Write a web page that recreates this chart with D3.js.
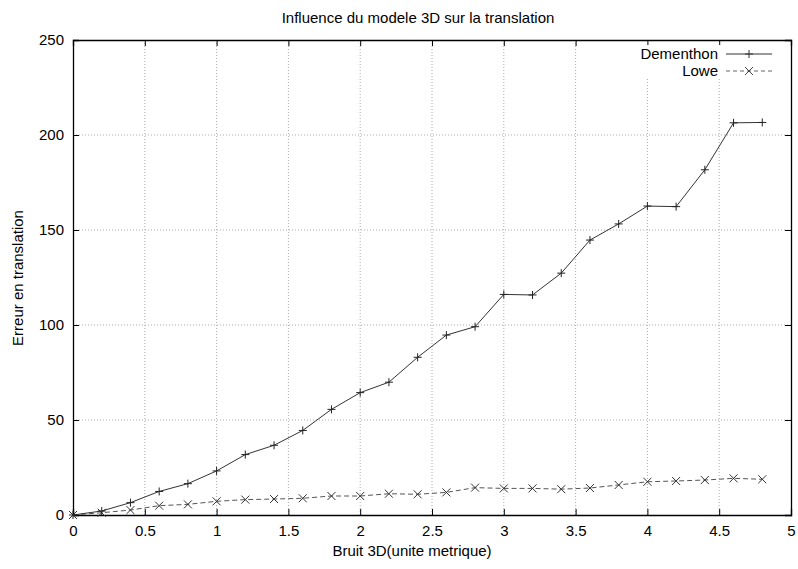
<!DOCTYPE html>
<html><head><meta charset="utf-8">
<script src="https://cdn.jsdelivr.net/npm/d3@7"></script>
<style>body{margin:0;background:#fff}svg{display:block}text{font-family:"Liberation Sans",Arial,sans-serif;fill:#000}</style>
</head><body>
<svg id="c" width="798" height="569"></svg>
<script>
const xValues = [0,0.2,0.4,0.6,0.8,1.0,1.2,1.4,1.6,1.8,2.0,2.2,2.4,2.6,2.8,3.0,3.2,3.4,3.6,3.8,4.0,4.2,4.4,4.6,4.8];
const dementhon = [0,2.1,6.5,12.4,16.5,23.2,31.8,36.7,44.5,55.6,64.4,69.9,83,94.7,99.1,116.1,115.8,127.3,144.7,153.2,162.6,162.3,181.7,206.4,206.6];
const lowe = [0,1.2,2.6,4.9,5.6,7.2,8.1,8.4,8.8,10.0,10.0,11.2,10.9,11.9,14.4,14.0,14.0,13.6,14.2,15.8,17.5,17.9,18.4,19.3,18.8];
const xTicks = [0,0.5,1,1.5,2,2.5,3,3.5,4,4.5,5];
const yTicks = [0,50,100,150,200,250];
const seriesNames = ["Dementhon","Lowe"];

const svg = d3.select("#c");
const L=73, R=791, T=40, B=515;
const FS = 15;
const x = d3.scaleLinear().domain([0,5]).range([L,R]);
const y = d3.scaleLinear().domain([0,250]).range([B,T]);

// grid
const g = svg.append("g");
xTicks.slice(1,-1).forEach(v=>{
  const y1 = (v>=4) ? 78 : T;
  g.append("line").attr("x1",x(v)).attr("x2",x(v)).attr("y1",B).attr("y2",y1)
   .attr("stroke","#aaa").attr("stroke-width",1).attr("stroke-dasharray","1,2");
});
yTicks.slice(1,-1).forEach(v=>{
  g.append("line").attr("x1",L).attr("x2",R).attr("y1",y(v)).attr("y2",y(v))
   .attr("stroke","#aaa").attr("stroke-width",1).attr("stroke-dasharray","1,2");
});

// axes with inward ticks
const ax = svg.append("g");
ax.append("g").attr("transform",`translate(0,${B})`)
  .call(d3.axisBottom(x).tickValues(xTicks).tickSize(-6).tickPadding(10).tickFormat(d3.format("")));
ax.append("g").attr("transform",`translate(0,${T})`)
  .call(d3.axisTop(x).tickValues(xTicks).tickSize(-6).tickFormat(""));
ax.append("g").attr("transform",`translate(${L},0)`)
  .call(d3.axisLeft(y).tickValues(yTicks).tickSize(-6).tickPadding(9));
ax.append("g").attr("transform",`translate(${R},0)`)
  .call(d3.axisRight(y).tickValues(yTicks).tickSize(-6).tickFormat(""));
ax.selectAll(".domain").attr("stroke","#000").attr("stroke-width",1.3);
ax.selectAll(".tick line").attr("stroke","#000").attr("stroke-width",1);
ax.selectAll(".tick text").attr("font-size",FS).attr("font-family","Liberation Sans, Arial, sans-serif");

// legend
const leg = svg.append("g");
const legY = [54,71];
leg.append("rect").attr("x",630).attr("y",45).attr("width",155).attr("height",33).attr("fill","#fff");
leg.append("text").attr("x",718).attr("y",legY[0]).attr("dy","0.35em").attr("text-anchor","end").attr("font-size",FS).text(seriesNames[0]);
leg.append("text").attr("x",718).attr("y",legY[1]).attr("dy","0.35em").attr("text-anchor","end").attr("font-size",FS).text(seriesNames[1]);
leg.append("line").attr("x1",726).attr("x2",772).attr("y1",legY[0]).attr("y2",legY[0]).attr("stroke","#333").attr("stroke-width",1);
leg.append("line").attr("x1",726).attr("x2",772).attr("y1",legY[1]).attr("y2",legY[1]).attr("stroke","#666").attr("stroke-width",1).attr("stroke-dasharray","4,3");

function plus(sel,cx,cy,col){
  sel.append("path").attr("d",`M${cx-4},${cy}H${cx+4}M${cx},${cy-4}V${cy+4}`).attr("stroke",col).attr("stroke-width",1).attr("fill","none");
}
function cross(sel,cx,cy,col){
  sel.append("path").attr("d",`M${cx-4},${cy-4}L${cx+4},${cy+4}M${cx-4},${cy+4}L${cx+4},${cy-4}`).attr("stroke",col).attr("stroke-width",1).attr("fill","none");
}
plus(leg,749,legY[0],"#333");
cross(leg,749,legY[1],"#444");

// lines
const line = d3.line().x((d,i)=>x(xValues[i])).y(d=>y(d));
svg.append("path").datum(lowe).attr("d",line).attr("fill","none").attr("stroke","#555").attr("stroke-width",1).attr("stroke-dasharray","5,3");
svg.append("path").datum(dementhon).attr("d",line).attr("fill","none").attr("stroke","#333").attr("stroke-width",1);
const mk = svg.append("g");
lowe.forEach((v,i)=>cross(mk,x(xValues[i]),y(v),"#333"));
dementhon.forEach((v,i)=>plus(mk,x(xValues[i]),y(v),"#222"));

// titles
svg.append("text").attr("x",418).attr("y",23).attr("text-anchor","middle").attr("font-size",FS).text("Influence du modele 3D sur la translation");
svg.append("text").attr("x",412).attr("y",556).attr("text-anchor","middle").attr("font-size",FS).text("Bruit 3D(unite metrique)");
svg.append("text").attr("transform","translate(23,278) rotate(-90)").attr("text-anchor","middle").attr("font-size",FS).text("Erreur en translation");
</script>
</body></html>
